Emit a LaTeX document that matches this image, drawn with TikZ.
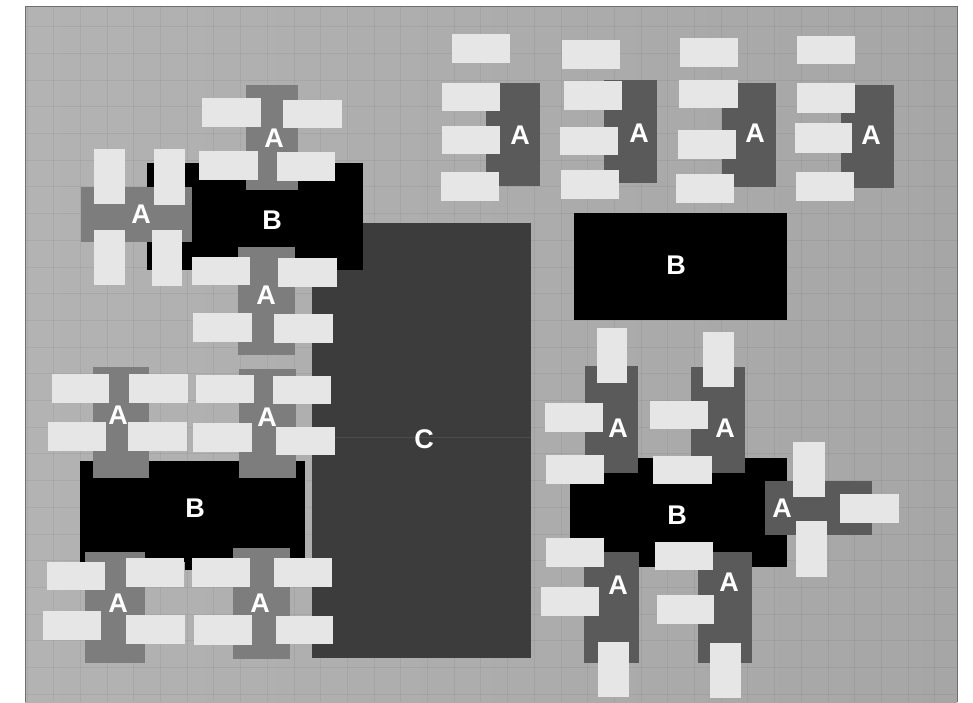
\documentclass[tikz,border=0pt]{standalone}
\usepackage{fontspec}
\setmainfont{Liberation Sans}
\definecolor{bgc}{HTML}{A6A6A6}
\definecolor{bglc}{HTML}{B3B3B3}
\definecolor{framec}{HTML}{6E6E6E}
\definecolor{tilec}{HTML}{E6E6E6}
\definecolor{armlc}{HTML}{7D7D7D}
\definecolor{armdc}{HTML}{5A5A5A}
\definecolor{boardc}{HTML}{3C3C3C}
\definecolor{foldc}{HTML}{4C4C4C}
\newcommand{\tilebox}[4]{\fill[tile] (#1,#2) rectangle (#3,#4);}
\newcommand{\armL}[4]{\fill[arml] (#1,#2) rectangle (#3,#4);}
\newcommand{\armD}[4]{\fill[armd] (#1,#2) rectangle (#3,#4);}
\newcommand{\bbox}[4]{\fill[bpiece] (#1,#2) rectangle (#3,#4);}
\begin{document}
\begin{tikzpicture}[x=1pt,y=-1pt,
  tile/.style={fill=tilec},
  arml/.style={fill=armlc},
  armd/.style={fill=armdc},
  bpiece/.style={fill=black},
  gridline/.style={draw=black,draw opacity=0.05,line width=1pt},
  lab/.style={text=white,font=\bfseries\fontsize{27}{27}\selectfont,inner sep=0pt}]
\useasboundingbox (0,0) rectangle (973,702);
\fill[white] (0,0) rectangle (973,702);
\shade[left color=bglc,right color=bgc] (25,6) rectangle (957,702);
\foreach \k in {0,...,34} \draw[gridline] ({27+26.7*\k},6) -- ({27+26.7*\k},702);
\foreach \k in {1,...,26} \draw[gridline] (25,{26.7*\k}) -- (957,{26.7*\k});
\draw[framec,line width=1pt] (25,702) -- (25,6) -- (957,6) -- (957,702);

% C board
\fill[boardc] (312,223) rectangle (531,658);
\draw[foldc,line width=0.8pt] (312,437) -- (531,437);
\node[lab] (c1) at (424,439) {C};

% ---------- top-left cluster ----------
\bbox{147}{163}{363}{270}
\armL{81}{187}{192}{242}
\armL{246}{85}{298}{190}
\armL{238}{247}{295}{355}
\tilebox{202}{98}{261}{127}
\tilebox{283}{100}{342}{128}
\tilebox{199}{151}{258}{180}
\tilebox{277}{152}{335}{181}
\tilebox{94}{149}{125}{204}
\tilebox{154}{149}{185}{205}
\tilebox{94}{230}{125}{285}
\tilebox{152}{230}{182}{286}
\tilebox{192}{257}{250}{285}
\tilebox{278}{258}{337}{287}
\tilebox{193}{313}{252}{342}
\tilebox{274}{314}{333}{343}
\node[lab] (tlA1) at (274,138) {A};
\node[lab] (tlA2) at (141,214) {A};
\node[lab] (tlB) at (272,220) {B};
\node[lab] (tlA3) at (266,295) {A};

% ---------- top-right row ----------
\armD{486}{83}{540}{186}
\armD{604}{80}{657}{183}
\armD{722}{83}{776}{187}
\armD{841}{85}{894}{188}
\tilebox{452}{34}{510}{63}
\tilebox{442}{83}{500}{111}
\tilebox{442}{126}{500}{154}
\tilebox{441}{172}{499}{201}
\tilebox{562}{40}{620}{69}
\tilebox{564}{81}{622}{110}
\tilebox{560}{127}{618}{155}
\tilebox{561}{170}{619}{199}
\tilebox{680}{38}{738}{67}
\tilebox{679}{80}{738}{108}
\tilebox{678}{130}{736}{159}
\tilebox{676}{174}{734}{203}
\tilebox{797}{36}{855}{64}
\tilebox{797}{83}{855}{113}
\tilebox{795}{123}{852}{153}
\tilebox{796}{172}{854}{201}
\node[lab] (trA1) at (520,135) {A};
\node[lab] (trA2) at (639,133) {A};
\node[lab] (trA3) at (755,133) {A};
\node[lab] (trA4) at (871,135) {A};
\bbox{574}{213}{787}{320}
\node[lab] (trB) at (676,265) {B};

% ---------- bottom-left cluster ----------
\bbox{80}{461}{305}{562}
\bbox{185}{555}{192}{570}
\armL{93}{367}{149}{478}
\armL{239}{369}{296}{478}
\armL{85}{552}{145}{663}
\armL{233}{548}{290}{659}
\tilebox{52}{374}{109}{403}
\tilebox{129}{374}{188}{403}
\tilebox{48}{422}{106}{451}
\tilebox{128}{422}{187}{451}
\tilebox{196}{375}{254}{403}
\tilebox{273}{376}{331}{404}
\tilebox{193}{423}{252}{452}
\tilebox{276}{427}{335}{455}
\tilebox{47}{562}{105}{590}
\tilebox{126}{558}{184}{587}
\tilebox{43}{611}{101}{640}
\tilebox{126}{615}{185}{644}
\tilebox{192}{558}{250}{587}
\tilebox{274}{558}{332}{587}
\tilebox{194}{615}{252}{645}
\tilebox{276}{616}{333}{644}
\node[lab] (blA1) at (118,415) {A};
\node[lab] (blA2) at (267,417) {A};
\node[lab] (blB) at (195,508) {B};
\node[lab] (blA3) at (118,603) {A};
\node[lab] (blA4) at (260,603) {A};

% ---------- bottom-right cluster ----------
\bbox{570}{458}{787}{567}
\armD{585}{366}{638}{473}
\armD{691}{367}{745}{473}
\armD{584}{552}{639}{663}
\armD{698}{552}{752}{663}
\armD{765}{481}{872}{535}
\tilebox{597}{328}{627}{383}
\tilebox{545}{403}{603}{432}
\tilebox{546}{455}{604}{484}
\tilebox{703}{332}{734}{387}
\tilebox{650}{401}{708}{429}
\tilebox{653}{456}{712}{484}
\tilebox{546}{538}{604}{567}
\tilebox{541}{587}{599}{616}
\tilebox{598}{642}{629}{697}
\tilebox{655}{542}{713}{570}
\tilebox{657}{595}{714}{624}
\tilebox{710}{643}{741}{698}
\tilebox{793}{442}{825}{497}
\tilebox{796}{521}{827}{577}
\tilebox{840}{494}{899}{523}
\node[lab] (brA1) at (618,428) {A};
\node[lab] (brA2) at (725,428) {A};
\node[lab] (brB) at (677,515) {B};
\node[lab] (brA3) at (618,585) {A};
\node[lab] (brA4) at (729,582) {A};
\node[lab] (brA5) at (782,508) {A};
\end{tikzpicture}
\end{document}
